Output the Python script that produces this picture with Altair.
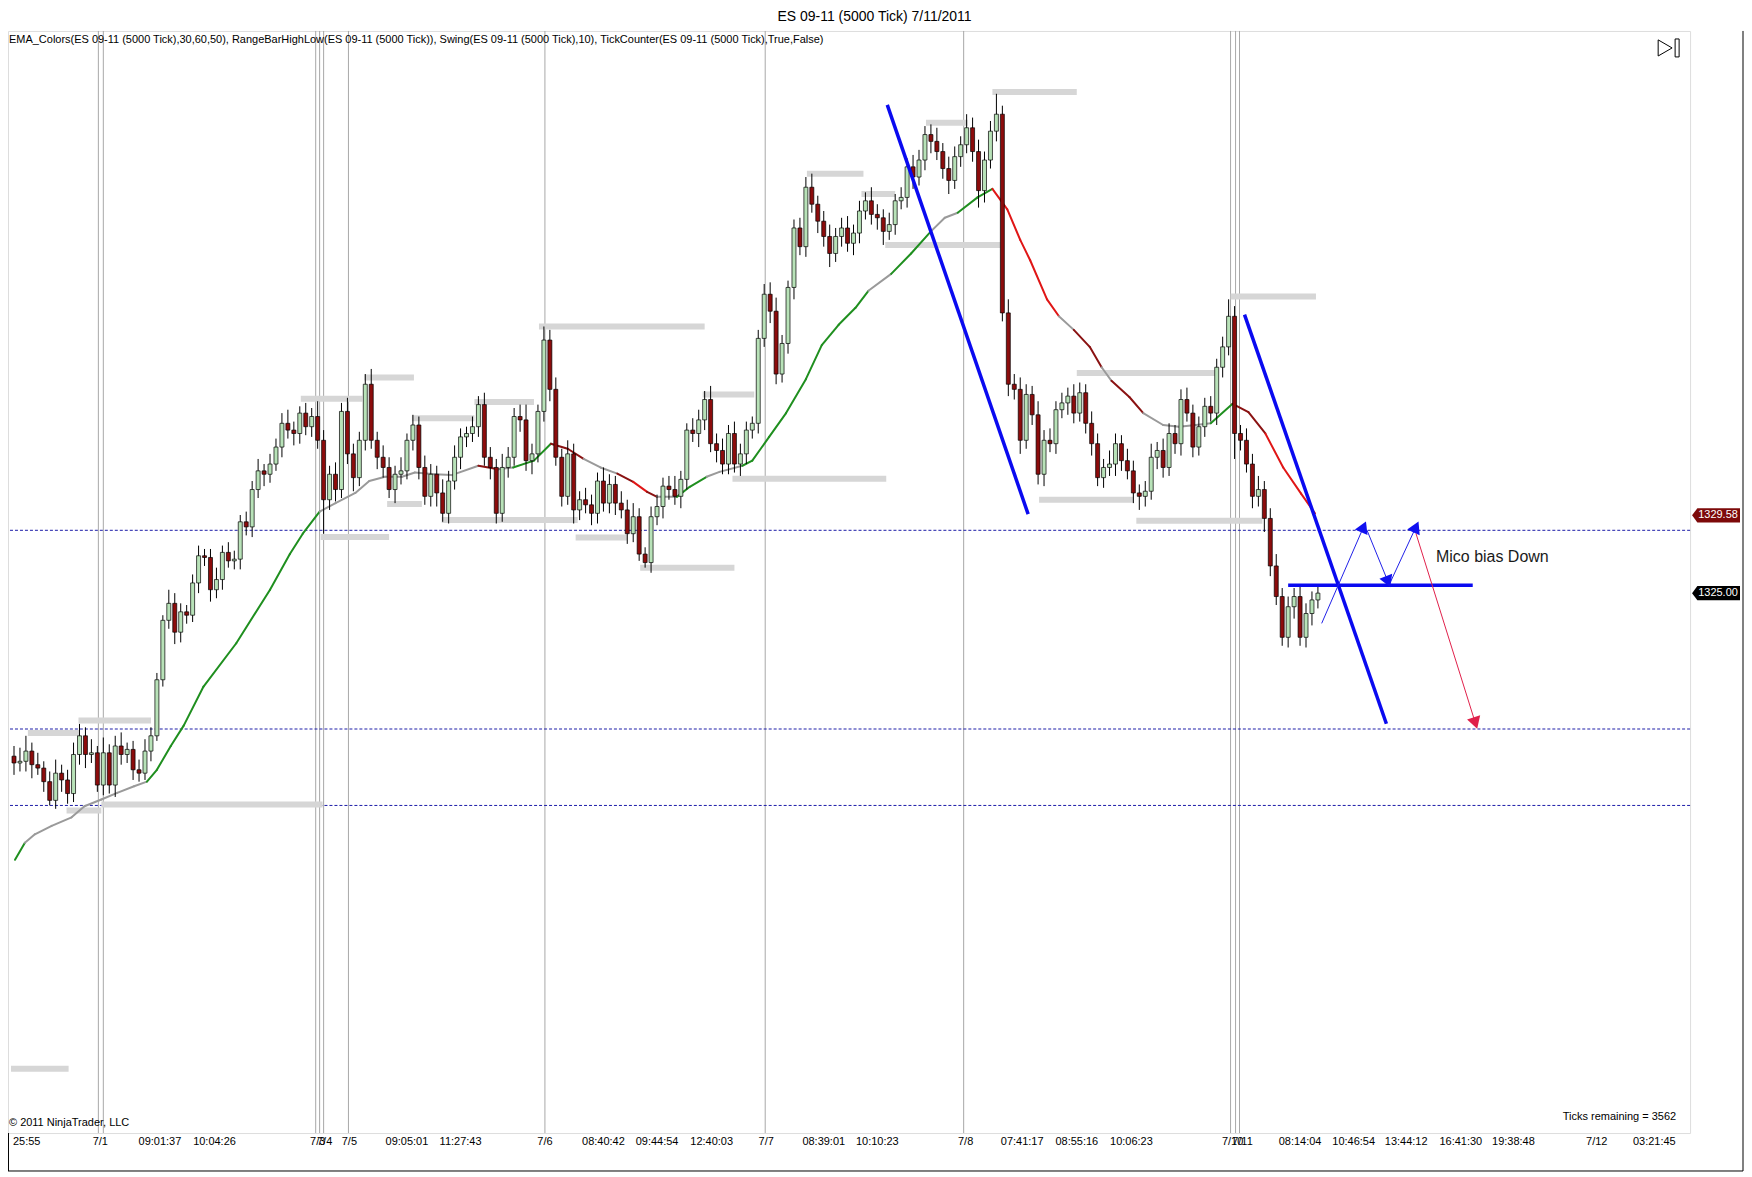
import altair as alt
import pandas as pd

# ---- price bars (one per range bar, open = previous close) ----
first_open = 1315.4
closes = [
    1315.0, 1315.1, 1315.7, 1314.9, 1314.7, 1313.9, 1312.8, 1314.4, 1314.0, 1313.2,
    1315.5, 1316.6, 1315.5, 1315.6, 1313.7, 1315.6, 1313.7, 1316.0, 1315.5, 1315.8,
    1314.6, 1314.4, 1315.7, 1316.6, 1319.9, 1323.4, 1324.4, 1322.7, 1323.9, 1323.7,
    1325.6, 1327.2, 1327.1, 1325.2, 1325.8, 1327.4, 1326.9, 1327.0, 1329.2, 1328.9,
    1331.1, 1332.2, 1332.0, 1332.6, 1333.6, 1335.0, 1334.6, 1334.4, 1335.6, 1334.8,
    1335.4, 1334.0, 1330.5, 1332.0, 1331.1, 1335.7, 1333.2, 1331.8, 1334.0, 1337.3,
    1334.0, 1333.0, 1332.4, 1331.1, 1332.0, 1332.2, 1334.0, 1334.9, 1332.4, 1330.7,
    1332.0, 1330.9, 1329.7, 1331.6, 1333.0, 1334.2, 1334.4, 1334.8, 1336.1, 1333.0,
    1332.4, 1329.7, 1332.4, 1333.0, 1335.4, 1335.2, 1332.8, 1333.2, 1335.7, 1339.9,
    1337.0, 1333.0, 1330.7, 1333.2, 1329.9, 1330.5, 1330.2, 1329.7, 1331.6, 1330.3,
    1331.4, 1330.3, 1329.9, 1328.5, 1329.5, 1327.3, 1326.8, 1329.5, 1330.1, 1331.3,
    1331.1, 1330.7, 1331.7, 1334.6, 1334.4, 1335.2, 1336.4, 1333.8, 1333.4, 1332.6,
    1334.4, 1332.6, 1333.2, 1334.6, 1335.0, 1340.0, 1342.6, 1341.6, 1337.9, 1339.7,
    1343.0, 1346.5, 1345.4, 1348.9, 1347.9, 1346.9, 1346.0, 1345.0, 1346.0, 1346.5,
    1345.6, 1346.2, 1347.5, 1348.1, 1347.3, 1347.1, 1346.3, 1346.7, 1348.1, 1348.3,
    1350.1, 1349.5, 1350.5, 1352.0, 1351.6, 1351.0, 1350.0, 1349.3, 1350.7, 1351.4,
    1352.4, 1351.0, 1348.7, 1350.5, 1352.2, 1353.2, 1341.5, 1337.3, 1337.0, 1334.0,
    1336.7, 1335.5, 1332.0, 1334.0, 1333.8, 1335.8, 1336.2, 1336.6, 1335.6, 1336.8,
    1335.0, 1333.8, 1331.8, 1332.4, 1332.6, 1333.8, 1332.8, 1332.2, 1330.9, 1330.7,
    1331.0, 1333.0, 1333.4, 1332.4, 1334.4, 1333.8, 1336.4, 1335.6, 1333.6, 1334.8,
    1336.0, 1335.6, 1338.3, 1339.5, 1341.3, 1334.4, 1334.0, 1332.6, 1330.7, 1331.1,
    1329.4, 1326.6, 1324.8, 1322.4, 1324.2, 1324.8, 1322.4, 1323.8, 1324.6, 1325.0,
]
wick_up = [
    0.6, 0.8, 0.9, 0.5, 0.7, 0.4, 0.6, 0.8, 0.5, 0.6, 0.7, 0.7, 0.5, 0.8, 0.4, 0.9, 0.5, 0.6, 0.8, 0.4,
    0.5, 0.6, 0.7, 0.5, 0.4, 0.3, 0.8, 0.6, 0.5, 0.4, 0.5, 0.6, 0.4, 0.5, 0.7, 0.4, 0.6, 0.5, 0.4, 0.6,
    0.5, 0.7, 0.4, 0.6, 0.5, 0.6, 0.8, 0.5, 0.4, 0.6, 0.5, 0.9, 0.6, 0.5, 0.7, 0.5, 0.8, 0.6, 0.5, 0.6,
    0.9, 0.5, 0.7, 0.6, 0.5, 0.8, 0.4, 0.6, 0.5, 0.7, 0.6, 0.5, 0.8, 0.6, 0.7, 0.5, 0.4, 0.6, 0.5, 0.7,
    0.6, 0.5, 0.8, 0.6, 0.5, 0.7, 0.9, 0.6, 0.4, 0.8, 0.6, 0.7, 0.5, 0.8, 0.6, 0.5, 0.7, 0.6, 0.5, 0.8,
    0.6, 0.5, 0.7, 0.6, 0.8, 0.5, 0.4, 0.6, 0.7, 0.5, 0.6, 0.8, 0.5, 0.4, 0.7, 0.6, 0.5, 0.8, 0.6, 0.7,
    0.5, 0.7, 0.6, 0.5, 0.4, 0.5, 0.6, 0.7, 0.8, 0.5, 0.4, 0.5, 0.6, 0.6, 0.8, 0.5, 0.6, 0.7, 0.5, 0.6,
    0.7, 0.5, 0.6, 0.5, 0.8, 0.6, 0.5, 0.7, 0.4, 0.6, 0.5, 0.7, 0.6, 0.5, 0.6, 0.8, 0.5, 0.7, 0.6, 0.5,
    0.8, 0.6, 0.7, 0.5, 0.6, 1.2, 0.5, 0.8, 0.6, 0.7, 0.6, 0.5, 0.8, 0.6, 0.7, 0.5, 0.6, 0.5, 0.7, 0.6,
    0.5, 0.7, 0.6, 0.5, 0.8, 0.6, 0.5, 0.7, 0.6, 0.5, 0.6, 0.8, 0.5, 0.7, 0.6, 0.5, 0.6, 0.7, 0.5, 0.6,
    0.5, 0.6, 0.5, 0.6, 1.0, 0.6, 0.5, 0.7, 0.6, 0.8, 0.5, 0.6, 0.7, 0.5, 0.6, 0.5, 0.7, 0.6, 0.5, 0.4,
]
wick_dn = [
    0.7, 0.5, 0.6, 0.8, 0.4, 0.6, 0.3, 0.5, 0.7, 0.6, 0.5, 0.6, 0.8, 0.5, 0.4, 0.6, 0.5, 0.7, 0.6, 0.5,
    0.6, 0.5, 0.4, 0.6, 0.3, 0.4, 0.5, 0.7, 0.6, 0.5, 0.4, 0.6, 0.5, 0.7, 0.5, 0.6, 0.4, 0.5, 0.6, 0.5,
    0.6, 0.5, 0.7, 0.5, 0.4, 0.6, 0.5, 0.7, 0.6, 0.5, 0.6, 0.5, 2.0, 0.6, 0.7, 0.5, 0.6, 0.8, 0.5, 0.6,
    0.5, 0.7, 0.6, 0.5, 0.8, 0.6, 0.5, 0.6, 0.7, 0.5, 0.6, 0.8, 0.5, 0.6, 0.5, 0.7, 0.6, 0.5, 0.6, 0.5,
    0.7, 0.6, 0.5, 0.6, 0.5, 0.7, 0.6, 0.8, 0.5, 0.6, 0.7, 0.5, 0.6, 0.5, 0.8, 0.6, 0.5, 0.7, 0.6, 0.5,
    0.6, 0.7, 0.5, 0.6, 0.5, 0.4, 0.3, 0.6, 0.5, 0.7, 0.6, 0.5, 0.7, 0.6, 0.5, 0.8, 0.6, 0.5, 0.7, 0.6,
    0.6, 0.5, 0.7, 0.6, 0.5, 0.6, 0.5, 0.7, 0.6, 0.5, 0.6, 0.7, 0.5, 0.6, 0.5, 0.7, 0.6, 0.8, 0.5, 0.6,
    0.5, 0.7, 0.6, 0.5, 0.6, 0.7, 0.8, 0.5, 0.6, 0.5, 0.6, 0.7, 0.5, 0.6, 0.7, 0.5, 0.6, 0.8, 0.5, 0.6,
    0.5, 0.6, 1.0, 0.7, 0.5, 0.6, 0.5, 0.7, 0.6, 0.8, 0.5, 0.6, 0.6, 0.7, 0.5, 0.6, 0.5, 0.7, 0.6, 0.5,
    0.6, 0.7, 0.5, 0.6, 0.5, 0.7, 0.6, 0.5, 0.6, 0.8, 0.6, 0.5, 0.7, 0.6, 0.5, 0.6, 0.7, 0.5, 0.6, 0.5,
    0.6, 0.5, 0.7, 0.6, 0.5, 1.5, 0.6, 0.5, 0.7, 0.6, 0.8, 0.6, 0.5, 0.5, 0.6, 0.7, 0.5, 0.6, 0.7, 0.5,
]

# ---- EMA_Colors line (bar index, price, colour state of the following segment) ----
ema_x = [0.17, 1.83, 3.5, 6.33, 9.67, 11.83, 14.67, 17.33, 20.17, 22.33, 24.0, 26.33, 28.5, 31.83,
         37.33, 43.0, 46.33, 48.5, 51.33, 54.0, 57.33, 59.67, 62.33, 65.17, 67.33, 70.67, 73.5, 78.0,
         81.33, 83.83, 87.33, 90.17, 93.0, 95.67, 98.5, 101.33, 104.0, 106.33, 108.0, 111.33, 113.5,
         116.33, 118.5, 122.33, 124.0, 126.83, 129.67, 133.0, 135.67, 138.5, 141.33, 143.5, 147.33,
         150.67, 154.0, 156.33, 158.5, 161.83, 164.33, 166.83, 169.0, 170.67, 173.5, 175.5, 178.0,
         180.67, 182.67, 184.33, 187.33, 189.67, 193.0, 195.67, 198.5, 201.0, 204.67, 207.33, 210.17,
         213.17, 216.17, 218.5]
ema_y = [1309.3, 1310.3, 1310.8, 1311.3, 1311.8, 1312.45, 1312.85, 1313.24, 1313.63, 1313.9, 1314.6,
         1316.0, 1317.2, 1319.5, 1322.05, 1325.2, 1327.3, 1328.5, 1329.8, 1330.3, 1330.9, 1331.6,
         1331.85, 1331.85, 1332.1, 1332.0, 1331.95, 1332.5, 1332.3, 1332.4, 1332.8, 1333.8, 1333.5,
         1332.9, 1332.4, 1332.04, 1331.55, 1330.96, 1330.67, 1330.67, 1331.26, 1331.85, 1332.14,
         1332.5, 1332.8, 1334.2, 1335.6, 1337.6, 1339.6, 1340.8, 1341.8, 1342.8, 1343.8, 1345.0,
         1346.3, 1347.1, 1347.4, 1348.3, 1348.8, 1347.6, 1345.8, 1344.6, 1342.3, 1341.3, 1340.5,
         1339.5, 1338.3, 1337.5, 1336.55, 1335.6, 1334.9, 1334.8, 1334.9, 1335.0, 1336.15, 1335.66,
         1334.4, 1332.4, 1330.86, 1329.7]
ema_state = ["up", "flat", "flat", "flat", "flat", "flat", "flat", "flat", "flat", "up", "up", "up",
             "up", "up", "up", "up", "up", "up", "flat", "flat", "flat", "flat", "flat", "flat",
             "flat", "flat", "flat", "dk", "flat", "up", "up", "dk", "dk", "flat", "flat", "dk", "dn",
             "dk", "flat", "up", "up", "flat", "flat", "up", "up", "up", "up", "up", "up", "up", "up",
             "flat", "up", "up", "flat", "flat", "up", "up", "dn", "dn", "dn", "dn", "dn", "flat", "dk",
             "dk", "flat", "dk", "dk", "flat", "flat", "flat", "flat", "up", "dk", "dk", "dn", "dn",
             "dn", "dn"]

# ---- RangeBarHighLow / Swing levels (start bar, end bar, price) ----
swing_x1 = [-0.5, 2.33, 10.83, 8.83, 14.67, 48.17, 58.83, 51.5, 62.67, 66.83, 77.33, 71.83, 94.33,
            88.17, 105.17, 115.67, 120.67, 133.17, 142.33, 153.17, 146.33, 164.33, 172.17, 178.5,
            188.5, 204.33]
swing_x2 = [9.17, 11.0, 23.0, 14.67, 51.83, 58.5, 67.17, 63.0, 68.5, 77.33, 87.33, 94.67, 103.0,
            116.0, 121.0, 124.33, 146.5, 142.67, 148.0, 160.17, 165.67, 178.5, 188.0, 201.83,
            209.67, 218.67]
swing_y = [1297.0, 1316.77, 1317.5, 1312.2, 1312.55, 1336.45, 1337.7, 1328.3, 1330.25, 1335.3,
           1336.25, 1329.3, 1328.28, 1340.7, 1326.5, 1336.7, 1331.73, 1349.7, 1348.5, 1352.7,
           1345.5, 1354.5, 1330.5, 1337.96, 1329.26, 1342.46]

# ---- dotted horizontal levels ----
level_prices = [1328.7, 1317.0, 1312.5]

# ---- x axis ticks / labels (bar index) and session breaks ----
tick_pos = [0.17, 9.0, 14.5, 24.5, 33.67, 42.67, 51.0, 52.17, 56.33, 66.0, 75.0, 84.0, 89.17, 99.0,
            108.0, 117.17, 126.33, 136.0, 145.0, 154.17, 159.83, 169.33, 178.5, 187.67, 196.67,
            204.67, 206.33, 216.0, 225.0, 233.83, 243.0, 251.83, 260.83, 265.83, 275.5]
tick_labels = ["25:55", "", "7/1", "09:01:37", "10:04:26", "", "7/3", "7/4", "7/5", "09:05:01",
               "11:27:43", "", "7/6", "08:40:42", "09:44:54", "12:40:03", "7/7", "08:39:01",
               "10:10:23", "", "7/8", "07:41:17", "08:55:16", "10:06:23", "", "7/10", "7/11",
               "08:14:04", "10:46:54", "13:44:12", "16:41:30", "19:38:48", "", "7/12", "03:21:45"]
session_pos = [14.17, 15.0, 50.67, 51.33, 52.0, 56.17, 89.17, 126.17, 159.5, 204.33, 205.17, 205.83]
y_ticks = [1295, 1300, 1305, 1310, 1315, 1320, 1325, 1330, 1335, 1340, 1345, 1350, 1355]

# ---- drawn annotations ----
trend_x1 = [146.67, 206.67, 214.0]
trend_y1 = [1353.75, 1341.4, 1325.47]
trend_x2 = [170.33, 230.5, 245.0]
trend_y2 = [1329.65, 1317.31, 1325.47]
zig_x1 = [219.63, 227.25, 231.07]
zig_y1 = [1323.22, 1328.7, 1325.57]
zig_x2 = [226.67, 230.78, 235.47]
zig_y2 = [1328.9, 1325.67, 1328.9]
zig_head_angle = [23.6, 157.7, 25.0]
red_x1, red_y1, red_x2, red_y2 = 235.47, 1328.51, 245.45, 1317.35
red_head_angle = 162.5
note_text = "Mico bias Down"
note_x, note_y = 238.83, 1327.15

marker_prices = [1329.58, 1325.0]
marker_labels = ["1329.58", "1325.00"]

title_text = "ES 09-11 (5000 Tick)  7/11/2011"
indicator_text = ("EMA_Colors(ES 09-11 (5000 Tick),30,60,50), RangeBarHighLow(ES 09-11 (5000 Tick)), "
                  "Swing(ES 09-11 (5000 Tick),10), TickCounter(ES 09-11 (5000 Tick),True,False)")

FONT = "Liberation Sans"
W, H = 1685, 1104
x_scale = alt.Scale(domain=[-0.17, 280.67], nice=False, zero=False)
y_scale = alt.Scale(domain=[1293.21, 1358.10], nice=False, zero=False)
ema_colors = {"up": "#1f8f1f", "flat": "#9a9a9a", "dn": "#e01616", "dk": "#8a1212"}

opens = [first_open] + closes[:-1]
bars = pd.DataFrame({"i": range(len(closes)), "open": opens, "close": closes,
                     "up": wick_up, "dn": wick_dn})
bars["high"] = bars[["open", "close"]].max(axis=1) + bars["up"]
bars["low"] = bars[["open", "close"]].min(axis=1) - bars["dn"]
bars["fill"] = ["#b8e2b8" if c >= o else "#8c0c0c" for o, c in zip(opens, closes)]

ema = pd.DataFrame({"x": ema_x[:-1], "x2": ema_x[1:], "y": ema_y[:-1], "y2": ema_y[1:],
                    "c": [ema_colors[s] for s in ema_state[:-1]]})
swings = pd.DataFrame({"x": swing_x1, "x2": swing_x2, "y": swing_y})
ticks = pd.DataFrame({"pos": tick_pos, "label": tick_labels})


def X(field, **kw):
    return alt.X(field, type="quantitative", scale=x_scale, axis=kw.get("axis"))


def Y(field, **kw):
    return alt.Y(field, type="quantitative", scale=y_scale, axis=kw.get("axis"))


x_axis = alt.Axis(values=tick_pos, labels=False, ticks=True, tickSize=6, tickColor="black",
                  domainColor="black", grid=True, gridColor="#e2e2e2", title=None)
y_axis = alt.Axis(orient="right", values=y_ticks, format=".2f", labelFont=FONT, labelFontSize=11,
                  labelColor="black", tickSize=5, tickColor="black", domainColor="black",
                  grid=True, gridColor="#e2e2e2", title=None, labelPadding=2)

sessions = alt.Chart(pd.DataFrame({"x": session_pos})).mark_rule(
    color="#a8a8a8", strokeWidth=1).encode(x=X("x"))

levels = alt.Chart(pd.DataFrame({"y": level_prices})).mark_rule(
    color="#1c1ca8", strokeWidth=1, strokeDash=[3, 2]).encode(y=Y("y"))

swing_bars = alt.Chart(swings).mark_rule(color="#d6d6d6", strokeWidth=6, clip=True).encode(
    x=X("x"), x2="x2", y=Y("y"))

ema_line = alt.Chart(ema).mark_rule(strokeWidth=2, strokeCap="round").encode(
    x=X("x"), x2="x2", y=Y("y"), y2="y2", color=alt.Color("c:N", scale=None))

wicks = alt.Chart(bars).mark_rule(color="black", strokeWidth=1).encode(
    x=X("i", axis=x_axis), y=Y("low", axis=y_axis), y2="high")

bodies = alt.Chart(bars).mark_bar(size=4, stroke="black", strokeWidth=0.7).encode(
    x=X("i"), y=Y("open"), y2="close", fill=alt.Fill("fill:N", scale=None))

trend = alt.Chart(pd.DataFrame({"x": trend_x1, "y": trend_y1, "x2": trend_x2, "y2": trend_y2})
                  ).mark_rule(color="#0a0af0", strokeWidth=3.5).encode(
    x=X("x"), x2="x2", y=Y("y"), y2="y2")

zig_df = pd.DataFrame({"x": zig_x1, "y": zig_y1, "x2": zig_x2, "y2": zig_y2, "a": zig_head_angle})
zig = alt.Chart(zig_df).mark_rule(color="#2020e8", strokeWidth=1).encode(
    x=X("x"), x2="x2", y=Y("y"), y2="y2")
zig_heads = alt.Chart(zig_df).mark_point(shape="triangle-up", filled=True, size=190,
                                         color="#1010f0", opacity=1).encode(
    x=X("x2"), y=Y("y2"), angle=alt.Angle("a:Q", scale=None))

red_df = pd.DataFrame({"x": [red_x1], "y": [red_y1], "x2": [red_x2], "y2": [red_y2],
                       "a": [red_head_angle]})
red_arrow = alt.Chart(red_df).mark_rule(color="#e0204a", strokeWidth=1).encode(
    x=X("x"), x2="x2", y=Y("y"), y2="y2")
red_head = alt.Chart(red_df).mark_point(shape="triangle-up", filled=True, size=190,
                                        color="#e0204a", opacity=1).encode(
    x=X("x2"), y=Y("y2"), angle=alt.Angle("a:Q", scale=None))

note = alt.Chart(pd.DataFrame({"x": [note_x], "y": [note_y], "t": [note_text]})).mark_text(
    align="left", baseline="middle", font=FONT, fontSize=16, color="#1a1a1a").encode(
    x=X("x"), y=Y("y"), text="t:N")

# x labels drawn under the axis
x_labels = alt.Chart(ticks.iloc[1:]).mark_text(
    align="center", baseline="middle", font=FONT, fontSize=11, color="black").encode(
    x=X("pos"), y=alt.value(H + 9), text="label:N")
x_first = alt.Chart(ticks.iloc[:1]).mark_text(
    align="left", baseline="middle", font=FONT, fontSize=11, color="black", dx=-2).encode(
    x=X("pos"), y=alt.value(H + 9), text="label:N")

# price markers on the right axis
box_path = "M -1 0 L -0.78 -0.3 L 1 -0.3 L 1 0.3 L -0.78 0.3 Z"
markers = pd.DataFrame({"p": marker_prices, "t": marker_labels, "c": ["#7d0a0a", "#000000"]})
marker_box = alt.Chart(markers).mark_point(shape=box_path, size=2304, filled=True, opacity=1,
                                           strokeWidth=0).encode(
    x=alt.value(W + 26), y=Y("p"), color=alt.Color("c:N", scale=None))
marker_txt = alt.Chart(markers).mark_text(font=FONT, fontSize=11, color="white",
                                          baseline="middle", align="center").encode(
    x=alt.value(W + 28), y=Y("p"), text="t:N")

# chrome: texts, icon and outer frame
one = pd.DataFrame({"t": [title_text], "ind": [indicator_text],
                    "cp": ["\u00a9 2011 NinjaTrader, LLC"], "tr": ["Ticks remaining = 3562"]})
title = alt.Chart(one).mark_text(font=FONT, fontSize=14, color="black", baseline="top").encode(
    x=alt.value(868), y=alt.value(-21), text="t:N")
indicators = alt.Chart(one).mark_text(font=FONT, fontSize=11, color="black", align="left",
                                      baseline="middle").encode(
    x=alt.value(1), y=alt.value(9), text="ind:N")
copyright_txt = alt.Chart(one).mark_text(font=FONT, fontSize=11, color="black", align="left",
                                         baseline="middle").encode(
    x=alt.value(1), y=alt.value(H - 10), text="cp:N")
ticks_left = alt.Chart(one).mark_text(font=FONT, fontSize=11, color="black", align="right",
                                      baseline="middle").encode(
    x=alt.value(W - 14), y=alt.value(H - 16), text="tr:N")
icon_tri = alt.Chart(one).mark_point(shape="triangle-right", filled=False, size=260,
                                     color="black", strokeWidth=1, opacity=1).encode(
    x=alt.value(W - 25), y=alt.value(17))
icon_bar = alt.Chart(one).mark_rect(fill="white", stroke="black", strokeWidth=1).encode(
    x=alt.value(W - 15), x2=alt.value(W - 11), y=alt.value(8), y2=alt.value(26))
frame_bottom = alt.Chart(one).mark_rule(color="black", strokeWidth=1).encode(
    x=alt.value(0), x2=alt.value(W + 53), y=alt.value(H + 38))
frame_right = alt.Chart(one).mark_rule(color="black", strokeWidth=1).encode(
    x=alt.value(W + 53), y=alt.value(0), y2=alt.value(H + 38))
frame_left = alt.Chart(one).mark_rule(color="black", strokeWidth=1).encode(
    x=alt.value(0.5), y=alt.value(H), y2=alt.value(H + 38))

chart = alt.layer(
    sessions, levels, swing_bars, ema_line, wicks, bodies, trend, zig, zig_heads,
    red_arrow, red_head, note, x_labels, x_first, marker_box, marker_txt,
    title, indicators, copyright_txt, ticks_left, icon_tri, icon_bar,
    frame_bottom, frame_right, frame_left,
).properties(
    width=W, height=H,
    padding={"left": 0, "top": 22, "right": 54, "bottom": 39},
    autosize=alt.AutoSizeParams(type="none"),
).configure_view(
    stroke="black", strokeWidth=1
).configure(background="white")

chart.save("out.html", embed_options={"renderer": "svg", "actions": False})
